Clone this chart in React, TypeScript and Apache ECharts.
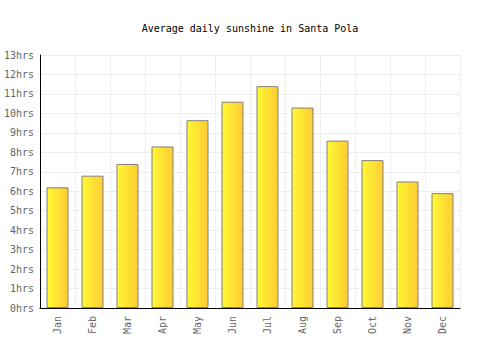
import React, { useEffect, useRef } from "react";
import * as echarts from "echarts";

const months = ["Jan", "Feb", "Mar", "Apr", "May", "Jun", "Jul", "Aug", "Sep", "Oct", "Nov", "Dec"];
const sunshineHours = [6.2, 6.8, 7.4, 8.3, 9.65, 10.6, 11.4, 10.3, 8.6, 7.6, 6.5, 5.9];
const yTicksMax = 13;
const titleText = "Average daily sunshine in Santa Pola";

export default function App() {
  const ref = useRef<HTMLDivElement>(null);
  useEffect(() => {
    if (!ref.current) return;
    const chart = echarts.init(ref.current, null, { renderer: "svg" });
    const font = "'DejaVu Sans Mono', monospace";
    chart.setOption({
      animation: false,
      title: {
        text: titleText,
        left: "center",
        top: 18,
        textStyle: { fontFamily: font, fontSize: 10, fontWeight: "normal", color: "#000" },
      },
      grid: { left: 40, right: 40, top: 55, bottom: 42, containLabel: false },
      xAxis: {
        type: "category",
        data: months,
        boundaryGap: true,
        axisLine: { show: true, lineStyle: { color: "#000", width: 1 } },
        axisTick: { show: false },
        splitLine: { show: true, interval: 0, lineStyle: { color: "#eeeeee", width: 1 } },
        axisLabel: {
          rotate: 90,
          interval: 0,
          fontFamily: font,
          fontSize: 10,
          color: "#666",
          margin: 8,
        },
      },
      yAxis: {
        type: "value",
        min: 0,
        max: yTicksMax,
        interval: 1,
        axisLine: { show: true, lineStyle: { color: "#000", width: 1 } },
        axisTick: { show: false },
        splitLine: { show: true, lineStyle: { color: "#eeeeee", width: 1 } },
        axisLabel: {
          formatter: "{value}hrs",
          fontFamily: font,
          fontSize: 10,
          color: "#666",
          margin: 6,
        },
      },
      series: [
        {
          type: "bar",
          data: sunshineHours,
          barWidth: 22,
          itemStyle: {
            color: new echarts.graphic.LinearGradient(0, 0, 1, 0, [
              { offset: 0, color: "#fff833" },
              { offset: 1, color: "#ffcc33" },
            ]),
            borderColor: "#808080",
            borderWidth: 1,
          },
        },
      ],
    });
    return () => chart.dispose();
  }, []);
  return <div ref={ref} style={{ width: 500, height: 350, position: "absolute", left: 0, top: 0 }} />;
}
